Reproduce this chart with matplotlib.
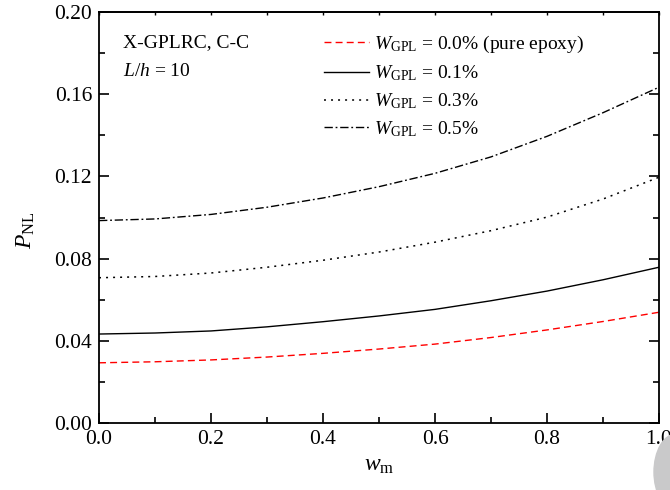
import matplotlib
matplotlib.use("Agg")
import matplotlib.pyplot as plt
from matplotlib.patches import Ellipse
from matplotlib.ticker import MultipleLocator, FormatStrFormatter, NullFormatter

plt.rcParams["font.family"] = ["Liberation Serif", "DejaVu Serif"]
plt.rcParams["mathtext.fontset"] = "custom"
plt.rcParams["mathtext.rm"] = "Liberation Serif"
plt.rcParams["mathtext.it"] = "Liberation Serif:italic"

# Dimensionless deflection w_m
w_m = [0.0, 0.1, 0.2, 0.3, 0.4, 0.5, 0.6, 0.7, 0.8, 0.9, 1.0]

# Nonlinear load P_NL for each GPL weight fraction
p_00 = [0.0293, 0.0298, 0.0307, 0.0321, 0.0339, 0.0360, 0.0384, 0.0416, 0.0453, 0.0494, 0.0539]
p_01 = [0.0433, 0.0438, 0.0448, 0.0468, 0.0493, 0.0521, 0.0553, 0.0595, 0.0642, 0.0697, 0.0758]
p_03 = [0.0707, 0.0713, 0.0730, 0.0758, 0.0792, 0.0832, 0.0880, 0.0936, 0.1002, 0.1090, 0.1196]
p_05 = [0.0985, 0.0993, 0.1015, 0.1050, 0.1095, 0.1150, 0.1215, 0.1295, 0.1395, 0.1510, 0.1634]

labels = [
    r"$W_{\mathrm{GPL}}$ = 0.0% (pure epoxy)",
    r"$W_{\mathrm{GPL}}$ = 0.1%",
    r"$W_{\mathrm{GPL}}$ = 0.3%",
    r"$W_{\mathrm{GPL}}$ = 0.5%",
]

fig = plt.figure(figsize=(6.7, 4.9), dpi=100)
ax = fig.add_axes([0.1478, 0.1367, 0.8358, 0.8388])

ax.plot(w_m, p_00, color="red", lw=1.0, linestyle=(0, (5, 3)), label=labels[0])
ax.plot(w_m, p_01, color="black", lw=1.0, linestyle="-", label=labels[1])
ax.plot(w_m, p_03, color="black", lw=1.1, linestyle=(0, (1.3, 3.3)), label=labels[2])
ax.plot(w_m, p_05, color="black", lw=1.0, linestyle=(0, (6, 2, 1.3, 2)), label=labels[3])

ax.set_xlim(0.0, 1.0)
ax.set_ylim(0.0, 0.20)
ax.xaxis.set_major_locator(MultipleLocator(0.2))
ax.xaxis.set_minor_locator(MultipleLocator(0.1))
ax.yaxis.set_major_locator(MultipleLocator(0.04))
ax.yaxis.set_minor_locator(MultipleLocator(0.02))
ax.xaxis.set_major_formatter(FormatStrFormatter("%.1f"))
ax.yaxis.set_major_formatter(FormatStrFormatter("%.2f"))

for s in ax.spines.values():
    s.set_linewidth(1.3)

ax.tick_params(which="both", direction="in", labelsize=15.5, width=1.2,
               left=True, right=True, bottom=True, top=False, pad=5)
ax.tick_params(which="major", length=7)
ax.tick_params(which="minor", length=4)

# short ticks along the top edge
top = ax.secondary_xaxis("top")
top.xaxis.set_major_locator(MultipleLocator(0.2))
top.xaxis.set_minor_locator(MultipleLocator(0.1))
top.xaxis.set_major_formatter(NullFormatter())
top.tick_params(which="both", direction="in", length=2, width=1.0)
top.spines["top"].set_linewidth(1.3)

ax.set_xlabel(r"$w_{\mathrm{m}}$", fontsize=17, labelpad=4)
ax.set_ylabel(r"$P_{\mathrm{NL}}$", fontsize=17)
ax.yaxis.set_label_coords(-0.11, 0.47)

ax.text(0.043, 0.925, "X-GPLRC, C-C", transform=ax.transAxes,
        fontsize=14, va="center", ha="left")
ax.text(0.043, 0.855, r"$L/h$ = 10", transform=ax.transAxes,
        fontsize=14, va="center", ha="left")

ax.legend(loc="upper left", bbox_to_anchor=(0.3875, 0.965), frameon=False,
          fontsize=14, handlelength=2.3, handletextpad=0.3,
          labelspacing=0.42, borderaxespad=0.0)

# grey blot in the lower-right corner
fig.patches.append(Ellipse((676 / 670, 18 / 490), 44 / 670, 76 / 490,
                           transform=fig.transFigure, color="#c9c9ca",
                           zorder=0))

fig.savefig("out.png", dpi=100)
